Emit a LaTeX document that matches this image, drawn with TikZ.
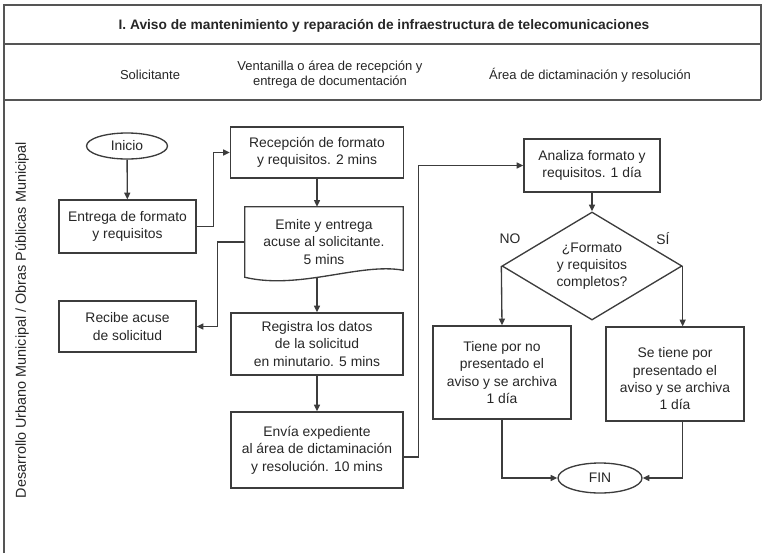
\documentclass[tikz,border=0pt]{standalone}
\usepackage{fontspec}
\setmainfont{Liberation Sans}
\usetikzlibrary{arrows.meta,calc,shapes.geometric}
\definecolor{linea}{HTML}{3C3C3C}
\definecolor{marcogris}{HTML}{555555}
\definecolor{texto}{HTML}{262626}

\begin{document}
\begin{tikzpicture}[x=0.75pt, y=-0.75pt, >={Triangle[length=5pt,width=4.5pt]},
  font=\fontsize{10.4}{13}\selectfont, text=texto,
  box/.style={draw=linea, line width=1pt, align=center, inner sep=2pt},
  term/.style={draw=linea, line width=1pt, ellipse, inner sep=0pt},
  decision/.style={draw=linea, line width=1pt, diamond, aspect=1.67, inner sep=0pt, align=center},
  cabeza/.style={font=\fontsize{9.75}{11.3}\selectfont, align=center},
  marco/.style={draw=marcogris, line width=1.5pt},
  flecha/.style={draw=linea, line width=1pt, ->}]
  \useasboundingbox (0,0) rectangle (762,553);

  % tabla
  \draw[marco] (4,553) -- (4,5) -- (761,5) -- (761,100);
  \draw[marco] (4,44) -- (761,44);
  \draw[marco] (4,100) -- (761,100);
  \node[font=\fontsize{10.3}{12}\selectfont\bfseries] (titulo) at (384,26) {I. Aviso de mantenimiento y reparación de infraestructura de telecomunicaciones};
  \node[cabeza] (solicitante) at (150,75) {Solicitante};
  \node[cabeza] (ventanilla) at (330,75) {Ventanilla o área de recepción y\\entrega de documentación};
  \node[cabeza] (area) at (590,75) {Área de dictaminación y resolución};
  \node[rotate=90, font=\fontsize{10.8}{13}\selectfont] (carril) at (22,320) {Desarrollo Urbano Municipal / Obras Públicas Municipal};

  % solicitante
  \node[term, minimum width=60.75pt, minimum height=19.5pt] (inicio) at (127,146) {Inicio};
  \node[box, minimum width=102.75pt, minimum height=39.75pt] (entrega) at (127.5,226.5) {Entrega de formato\\y requisitos};
  \node[box, minimum width=102.75pt, minimum height=38.25pt] (recibe) at (127.5,326.5) {Recibe acuse\\de solicitud};

  % ventanilla
  \node[box, minimum width=129.75pt, minimum height=38.25pt] (recepcion) at (317,152.5) {Recepción de formato\\y requisitos. 2 mins};
  \node[align=center, minimum width=118.5pt, minimum height=52.5pt, inner sep=0pt] (emite) at (324,242) {Emite y entrega\\acuse al solicitante.\\5 mins};
  \draw[draw=linea, line width=1pt] (emite.north west) -- (emite.north east) -- ([yshift=5.25pt]emite.south east)
    .. controls +(-43,-8) and +(55,13) .. (emite.south west) -- cycle;
  \node[box, minimum width=129pt, minimum height=46.5pt] (registra) at (317,344) {Registra los datos\\de la solicitud\\en minutario. 5 mins};
  \node[box, minimum width=129pt, minimum height=57pt] (envia) at (317,450) {Envía expediente\\al área de dictaminación\\y resolución. 10 mins};

  % dictaminacion
  \node[box, minimum width=102pt, minimum height=39.75pt] (analiza) at (592,165.5) {Analiza formato y\\requisitos. 1 día};
  \node[decision, minimum width=135pt, minimum height=81pt] (completos) at (592,266) {¿Formato\\y requisitos\\completos?};
  \node (no) at (510,239) {NO};
  \node (si) at (663,239) {SÍ};
  \node[box, minimum width=103.5pt, minimum height=69.75pt] (tiene) at (502,372.5) {Tiene por no\\presentado el\\aviso y se archiva\\1 día};
  \node[box, minimum width=103.5pt, minimum height=70.5pt] (setiene) at (675,374) {\rule{0pt}{15pt}Se tiene por\\presentado el\\aviso y se archiva\\1 día};
  \node[term, minimum width=63pt, minimum height=22.5pt] (fin) at (600,478) {FIN};

  % conectores
  \draw[flecha] (inicio) -- (entrega);
  \draw[flecha] (entrega.east) -- ++(17,0) |- (recepcion.west);
  \draw[flecha] (recepcion.south) -- (recepcion.south |- emite.north);
  \draw[flecha] (emite.west) -- ++(-27,0) |- (recibe.east);
  \draw[flecha] (registra.north |- emite.south) -- (registra.north);
  \draw[flecha] (registra) -- (envia);
  \draw[flecha] ([yshift=-5.25pt]envia.east) -- ++(15,0) |- (analiza.west);
  \draw[flecha] (analiza) -- (completos);
  \draw[flecha] (completos.west) -- (tiene.north);
  \draw[flecha] (completos.east) -- (completos.east |- setiene.north);
  \draw[flecha] (tiene.south) |- (fin.west);
  \draw[flecha] (completos.east |- setiene.south) |- (fin.east);
\end{tikzpicture}
\end{document}
